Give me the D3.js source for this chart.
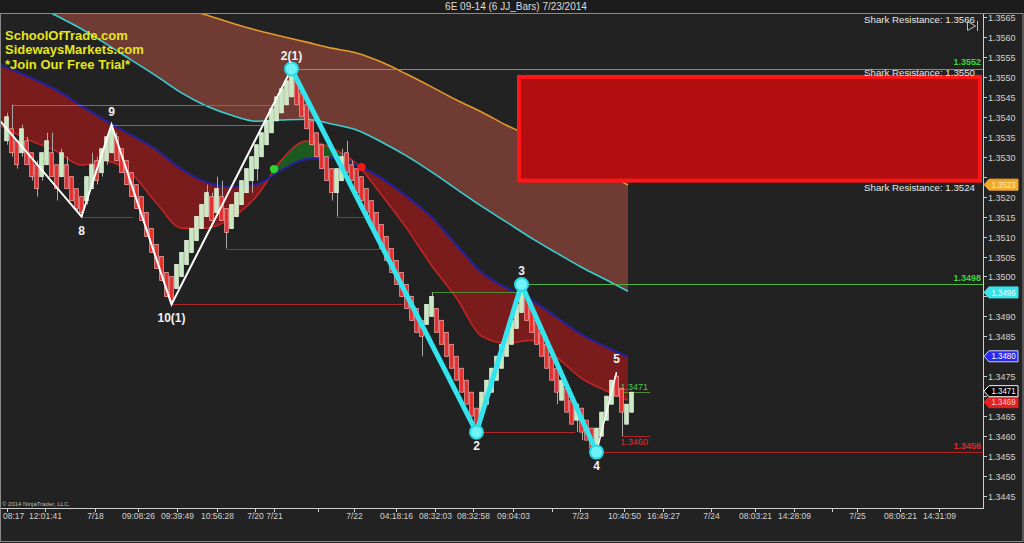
<!DOCTYPE html>
<html><head><meta charset="utf-8">
<script src="https://cdn.jsdelivr.net/npm/d3@7"></script>
<style>
html,body{margin:0;padding:0;background:#222;}
svg{display:block;font-family:Arial,"Liberation Sans",sans-serif;}
</style></head><body>
<svg id="chart" width="1024" height="543"></svg>
<script>
// ---------------- DATA ----------------
const barOpen = [1.3534,1.3537,1.3534,1.3531,1.3534,1.3531,1.3528,1.3525,1.3528,1.3531,
1.3528,1.3525,1.3528,1.3525,1.3522,1.3520,1.3519,1.3522,1.3529,1.3526,
1.3529,1.3531,1.3535,1.3532,1.3529,1.3526,1.3523,1.3520,1.3516,1.3512,
1.3508,1.3505,1.3501,1.3500,1.3497,1.3500,1.3503,1.3506,1.3509,1.3512,
1.3515,1.3520,1.3516,1.3520,1.3517,1.3512,1.3515,1.3518,1.3521,1.3524,
1.3527,1.3530,1.3533,1.3536,1.3539,1.3541,1.3543,1.3545,1.3549,1.3546,
1.3543,1.3539,1.3536,1.3533,1.3530,1.3527,1.3521,1.3524,1.3531,1.3528,
1.3527,1.3525,1.3522,1.3519,1.3516,1.3513,1.3510,1.3507,1.3504,1.3501,
1.3498,1.3495,1.3492,1.3489,1.3488,1.3490,1.3492,1.3489,1.3486,1.3483,
1.3480,1.3477,1.3474,1.3471,1.3467,1.3465,1.3468,1.3471,1.3474,1.3477,
1.3480,1.3483,1.3487,1.3491,1.3495,1.3492,1.3489,1.3486,1.3483,1.3480,
1.3477,1.3469,1.3472,1.3469,1.3464,1.3467,1.3464,1.3462,1.3457,1.3460,
1.3464,1.3468,1.3475,1.3472,1.3463,1.3466];
const barHigh = [1.3541,1.3543,1.3534,1.3538,1.3535,1.3531,1.3529,1.3531,1.3536,1.3536,
1.3528,1.3532,1.3530,1.3525,1.3522,1.3520,1.3525,1.3531,1.3530,1.3532,
1.3535,1.3538,1.3536,1.3532,1.3529,1.3526,1.3523,1.3520,1.3516,1.3512,
1.3508,1.3505,1.3501,1.3500,1.3503,1.3506,1.3509,1.3512,1.3515,1.3518,
1.3523,1.3521,1.3525,1.3524,1.3517,1.3518,1.3521,1.3524,1.3527,1.3530,
1.3533,1.3536,1.3539,1.3542,1.3545,1.3547,1.3549,1.3552,1.3549,1.3546,
1.3543,1.3539,1.3536,1.3533,1.3530,1.3527,1.3527,1.3532,1.3534,1.3529,
1.3527,1.3525,1.3522,1.3519,1.3516,1.3513,1.3510,1.3507,1.3504,1.3501,
1.3498,1.3495,1.3492,1.3489,1.3493,1.3496,1.3492,1.3489,1.3486,1.3483,
1.3480,1.3477,1.3474,1.3471,1.3467,1.3471,1.3474,1.3477,1.3480,1.3483,
1.3486,1.3489,1.3493,1.3498,1.3495,1.3492,1.3489,1.3486,1.3483,1.3480,
1.3477,1.3476,1.3472,1.3469,1.3468,1.3467,1.3464,1.3462,1.3462,1.3466,
1.3470,1.3474,1.3476,1.3472,1.3468,1.3471];
const barLow = [1.3533,1.3530,1.3527,1.3530,1.3528,1.3524,1.3520,1.3524,1.3528,1.3525,
1.3519,1.3525,1.3522,1.3519,1.3516,1.3515,1.3518,1.3522,1.3523,1.3525,
1.3528,1.3531,1.3529,1.3526,1.3523,1.3520,1.3517,1.3514,1.3510,1.3506,
1.3502,1.3499,1.3495,1.3493,1.3497,1.3500,1.3503,1.3506,1.3509,1.3512,
1.3515,1.3514,1.3516,1.3514,1.3507,1.3512,1.3515,1.3518,1.3521,1.3521,
1.3524,1.3530,1.3533,1.3536,1.3539,1.3541,1.3543,1.3545,1.3543,1.3540,
1.3537,1.3533,1.3530,1.3527,1.3524,1.3519,1.3515,1.3524,1.3526,1.3524,
1.3521,1.3519,1.3515,1.3513,1.3510,1.3506,1.3504,1.3501,1.3498,1.3495,
1.3492,1.3489,1.3486,1.3480,1.3488,1.3490,1.3486,1.3483,1.3480,1.3477,
1.3474,1.3471,1.3468,1.3465,1.3461,1.3465,1.3468,1.3471,1.3474,1.3477,
1.3480,1.3483,1.3487,1.3491,1.3489,1.3486,1.3483,1.3480,1.3477,1.3474,
1.3468,1.3469,1.3466,1.3463,1.3461,1.3459,1.3459,1.3457,1.3456,1.3460,
1.3464,1.3468,1.3470,1.3460,1.3463,1.3466];
const barClose = [1.3540,1.3531,1.3528,1.3537,1.3528,1.3525,1.3522,1.3531,1.3534,1.3525,
1.3522,1.3531,1.3522,1.3519,1.3517,1.3516,1.3525,1.3528,1.3524,1.3532,
1.3535,1.3537,1.3529,1.3526,1.3523,1.3520,1.3517,1.3514,1.3510,1.3506,
1.3502,1.3499,1.3495,1.3494,1.3503,1.3506,1.3509,1.3512,1.3515,1.3518,
1.3521,1.3514,1.3522,1.3514,1.3511,1.3518,1.3521,1.3524,1.3527,1.3530,
1.3533,1.3536,1.3539,1.3542,1.3545,1.3547,1.3549,1.3551,1.3543,1.3540,
1.3537,1.3533,1.3530,1.3527,1.3524,1.3521,1.3527,1.3530,1.3526,1.3524,
1.3521,1.3519,1.3516,1.3513,1.3510,1.3507,1.3504,1.3501,1.3498,1.3495,
1.3492,1.3489,1.3486,1.3485,1.3493,1.3495,1.3486,1.3483,1.3480,1.3477,
1.3474,1.3471,1.3468,1.3465,1.3462,1.3471,1.3474,1.3477,1.3480,1.3483,
1.3486,1.3489,1.3493,1.3497,1.3489,1.3486,1.3483,1.3480,1.3477,1.3474,
1.3471,1.3474,1.3466,1.3463,1.3468,1.3461,1.3459,1.3457,1.3462,1.3466,
1.3470,1.3474,1.3470,1.3466,1.3468,1.3471];

// moving-average bands, sampled at bar indexes
const maIdx = [-1.5,5,10,15,20,25,30,35,40,45,50,55,60,65,70,75,80,85,90,95,100,105,110,115,120,124.3];
const maOrange = [1.35818,1.35793,1.35773,1.35753,1.35733,1.35713,1.35693,1.35673,1.35655,1.35635,1.35617,1.35602,1.35587,1.35572,1.35560,1.35537,1.35507,1.35475,1.35442,1.35412,1.35379,1.35349,1.35319,1.35289,1.35259,1.35229];
const maCyan = [1.35730,1.35685,1.35653,1.35620,1.35582,1.35542,1.35502,1.35460,1.35427,1.35404,1.35389,1.35392,1.35394,1.35382,1.35367,1.35337,1.35302,1.35262,1.35219,1.35176,1.35136,1.35096,1.35059,1.35023,1.34991,1.34963];
const maBlue = [1.35532,1.35497,1.35467,1.35427,1.35389,1.35354,1.35317,1.35269,1.35236,1.35224,1.35231,1.35267,1.35294,1.35297,1.35279,1.35246,1.35201,1.35149,1.35079,1.35011,1.34971,1.34941,1.34898,1.34855,1.34823,1.34798];
const maRed = [1.35379,1.35339,1.35314,1.35279,1.35289,1.35257,1.35184,1.35121,1.35121,1.35146,1.35201,1.35292,1.35339,1.35322,1.35282,1.35204,1.35121,1.35028,1.34946,1.34851,1.34833,1.34840,1.34798,1.34745,1.34713,1.34690];

// cross dots
const crossIdx = [53.5, 71];
const crossPrice = [1.35269, 1.35274];
const crossKind = ["up", "down"];

// zigzags
const whiteIdx = [-1.3, 15, 21, 33, 57];
const whitePrice = [1.3539, 1.3515, 1.3538, 1.3493, 1.3552];
const white2Idx = [118, 122];
const white2Price = [1.3456, 1.3476];
const cyanIdx = [57, 94, 103, 118];
const cyanPrice = [1.3552, 1.3461, 1.3498, 1.3456];

// swing labels
const swingLabel = ["8", "9", "10(1)", "2(1)", "2", "3", "4", "5"];
const swingIdx = [15, 21, 33, 57, 94, 103, 118, 122];
const swingPrice = [1.3515, 1.3538, 1.3493, 1.3552, 1.3461, 1.3498, 1.3456, 1.3476];
const swingIsLow = [true, false, true, false, true, false, true, false];

// swing horizontal lines
const slPrice = [1.3543, 1.3538, 1.3515, 1.3507, 1.3493, 1.3515, 1.3496, 1.3461, 1.3471, 1.3460];
const slStart = [1, 21, 15, 44, 33, 66, 85, 94, 123, 123];
const slEnd   = [54.7, 52, 25.3, 74.7, 79.3, 72.3, 102.7, 113.7, 128.7, 128.7];
const slUp    = [true, true, false, false, false, false, true, false, true, false];

// levels extending to the axis
const levelPrice = [1.3552, 1.3498, 1.3456];
const levelStart = [57, 103, 118];
const levelUp = [true, true, false];

// shark zone
const sharkTop = 1.3550, sharkBottom = 1.3524, sharkStartIdx = 102.5;
const sharkPrice = [1.3566, 1.3550, 1.3524];

// axis
const yTickValues = [1.3565,1.3560,1.3555,1.3550,1.3545,1.3540,1.3535,1.3530,1.3525,1.3520,1.3515,1.3510,1.3505,1.3500,1.3495,1.3490,1.3485,1.3480,1.3475,1.3470,1.3465,1.3460,1.3455,1.3450,1.3445];
const xTickIdx = [0.1,7.7,17.7,26.3,34.1,42.1,49.7,53.5,62.3,69.5,77.9,85.7,93.3,101.3,109.1,114.7,123.5,131.3,140.9,149.7,157.5,165.1,170.1,178.7,186.5];
const xTickLabel = ["08:17","12:01:41","7/18","09:08:26","09:39:49","10:56:28","7/20","7/21","","7/22","04:18:16","08:32:03","08:32:58","09:04:03","","7/23","10:40:50","16:49:27","7/24","08:03:21","14:28:09","","7/25","08:06:21","14:31:09"];

// right-axis price flags (drawn in this order)
const flagPrice = [1.3523, 1.3496, 1.3480, 1.3469, 1.3471];
const flagFill = ["#f2a92c", "#38e4ea", "#2a2af0", "#e42020", "#000000"];
const flagText = ["#fff1b8", "#eaffff", "#ffffff", "#ffd0d0", "#ffffff"];
const flagStroke = ["#f2a92c", "#38e4ea", "#d0d0ff", "#e42020", "#ffffff"];
const flagNudge = [0, 0, 0, 2, -1];

// ---------------- DRAW ----------------
const svg = d3.select('#chart');
const P = {left: 1, right: 983, top: 14, bottom: 508};
const x = d3.scaleLinear().domain([0, 125]).range([6.5, 631.5]);
const y = d3.scaleLinear().domain([1.3445, 1.3565]).range([496, 17]);
const curve = d3.curveMonotoneX;

svg.append('rect').attr('width', 1024).attr('height', 543).attr('fill', '#222');
svg.append('rect').attr('width', 1024).attr('height', 14).attr('fill', '#1c1c1c');

const defs = svg.append('defs');
defs.append('clipPath').attr('id', 'plotClip').append('rect')
  .attr('x', P.left).attr('y', P.top).attr('width', P.right - P.left).attr('height', P.bottom - P.top);

const ma = maIdx.map((i, k) => ({i, orange: maOrange[k], cyan: maCyan[k], blue: maBlue[k], red: maRed[k]}));
defs.append('clipPath').attr('id', 'aboveBlue').append('path')
  .attr('d', d3.area().x(d => x(d.i)).y0(-50).y1(d => y(d.blue)).curve(curve)(ma));
defs.append('clipPath').attr('id', 'belowBlue').append('path')
  .attr('d', d3.area().x(d => x(d.i)).y0(d => y(d.blue)).y1(700).curve(curve)(ma));

const g = svg.append('g').attr('clip-path', 'url(#plotClip)');

// bands
g.append('path').attr('fill', '#6f3b33')
  .attr('d', d3.area().x(d => x(d.i)).y0(d => y(d.cyan)).y1(d => y(d.orange)).curve(curve)(ma));
const band = d3.area().x(d => x(d.i)).y0(d => y(d.red)).y1(d => y(d.blue)).curve(curve);
g.append('g').attr('clip-path', 'url(#aboveBlue)').append('path').attr('fill', '#1d5a21').attr('d', band(ma));
g.append('g').attr('clip-path', 'url(#belowBlue)').append('path').attr('fill', '#7a1c1c').attr('d', band(ma));

const lineOf = key => d3.line().x(d => x(d.i)).y(d => y(d[key])).curve(curve)(ma);
g.append('path').attr('d', lineOf('orange')).attr('fill', 'none').attr('stroke', '#e49a2c').attr('stroke-width', 1.6);
g.append('path').attr('d', lineOf('cyan')).attr('fill', 'none').attr('stroke', '#3ccfd2').attr('stroke-width', 1.6);
g.append('path').attr('d', lineOf('red')).attr('fill', 'none').attr('stroke', '#c42424').attr('stroke-width', 1.6);
g.append('path').attr('d', lineOf('blue')).attr('fill', 'none').attr('stroke', '#24229a').attr('stroke-width', 2.2);

// swing lines
slPrice.forEach((p, k) => {
  g.append('line').attr('x1', x(slStart[k])).attr('x2', x(slEnd[k]))
    .attr('y1', Math.round(y(p)) + 0.5).attr('y2', Math.round(y(p)) + 0.5)
    .attr('stroke', slUp[k] ? '#4f8e34' : '#b02626').attr('stroke-width', 1);
});
levelPrice.forEach((p, k) => {
  g.append('line').attr('x1', x(levelStart[k])).attr('x2', P.right)
    .attr('y1', Math.round(y(p)) + 0.5).attr('y2', Math.round(y(p)) + 0.5)
    .attr('stroke', levelUp[k] ? '#52b446' : '#b02222').attr('stroke-width', 1);
});

// candles
const bars = barOpen.map((o, i) => ({i, o, h: barHigh[i], l: barLow[i], c: barClose[i]}));
g.append('g').selectAll('line').data(bars).join('line')
  .attr('x1', d => Math.round(x(d.i)) + 0.5).attr('x2', d => Math.round(x(d.i)) + 0.5)
  .attr('y1', d => y(d.h)).attr('y2', d => y(d.l))
  .attr('stroke', '#a8a8a8').attr('stroke-width', 1);
g.append('g').selectAll('rect').data(bars).join('rect')
  .attr('x', d => x(d.i) - 1.8).attr('width', 3.6)
  .attr('y', d => y(Math.max(d.o, d.c))).attr('height', d => Math.max(1, Math.abs(y(d.o) - y(d.c))))
  .attr('fill', d => d.c >= d.o ? '#c6e9be' : '#e42a2a')
  .attr('stroke', d => d.c >= d.o ? '#eaf8e6' : '#f4a4a4').attr('stroke-width', 0.8);

// shark zone
g.append('rect').attr('x', x(sharkStartIdx)).attr('y', y(sharkTop))
  .attr('width', 980 - x(sharkStartIdx)).attr('height', y(sharkBottom) - y(sharkTop))
  .attr('fill', '#b30e10').attr('stroke', '#ff1616').attr('stroke-width', 4);

// zigzags
const zz = d3.line().x(d => x(d[0])).y(d => y(d[1]));
g.append('path').attr('d', zz(whiteIdx.map((v, k) => [v, whitePrice[k]])))
  .attr('fill', 'none').attr('stroke', '#ffffff').attr('stroke-width', 2);
g.append('path').attr('d', zz(white2Idx.map((v, k) => [v, white2Price[k]])))
  .attr('fill', 'none').attr('stroke', '#ffffff').attr('stroke-width', 1.5);
g.append('path').attr('d', zz(cyanIdx.map((v, k) => [v, cyanPrice[k]])))
  .attr('fill', 'none').attr('stroke', '#33e4ee').attr('stroke-width', 5).attr('stroke-linejoin', 'round');
g.append('g').selectAll('circle').data(cyanIdx).join('circle')
  .attr('cx', (d) => x(d)).attr('cy', (d, k) => y(cyanPrice[k])).attr('r', 6.5)
  .attr('fill', '#6ff2f8').attr('stroke', '#2ad8e6').attr('stroke-width', 2);

// cross dots
g.append('g').selectAll('circle').data(crossIdx).join('circle')
  .attr('cx', d => x(d)).attr('cy', (d, k) => y(crossPrice[k])).attr('r', 4.2)
  .attr('fill', (d, k) => crossKind[k] === 'up' ? '#2fd12f' : '#f01818');

// swing labels
svg.append('g').selectAll('text').data(swingLabel).join('text')
  .attr('x', (d, k) => x(swingIdx[k])).attr('y', (d, k) => y(swingPrice[k]) + (swingIsLow[k] ? 18 : -9))
  .attr('text-anchor', 'middle').attr('fill', '#f2f2f2').attr('font-size', 12).attr('font-weight', 'bold')
  .text(d => d);

// level labels
levelPrice.forEach((p, k) => {
  svg.append('text').attr('x', 981).attr('y', y(p) - 3.5).attr('text-anchor', 'end')
    .attr('font-size', 9).attr('font-weight', 'bold')
    .attr('fill', levelUp[k] ? '#3ed43e' : '#e02828').text(p.toFixed(4));
});
// short labels near last bars
[8, 9].forEach(k => {
  svg.append('text').attr('x', x(slStart[k]) - 1).attr('y', y(slPrice[k]) + (slUp[k] ? -2 : 9))
    .attr('font-size', 9).attr('fill', slUp[k] ? '#4cc94c' : '#e03030').text(slPrice[k].toFixed(4));
});

// shark texts
const sharkDy = [10, -0.5, 10];
sharkPrice.forEach((p, k) => {
  svg.append('text').attr('x', 975).attr('y', y(p) + sharkDy[k]).attr('text-anchor', 'end')
    .attr('font-size', 9.7).attr('fill', '#e6e6e6').text('Shark Resistance: ' + p.toFixed(4));
});

// watermark
const wm = ["SchoolOfTrade.com", "SidewaysMarkets.com", "*Join Our Free Trial*"];
svg.append('g').selectAll('text').data(wm).join('text')
  .attr('x', 5).attr('y', (d, k) => 40 + k * 14.3).attr('font-size', 13).attr('font-weight', 'bold')
  .attr('fill', '#e6e61c').text(d => d);

// frame & axes
svg.append('rect').attr('x', 0.5).attr('y', 13.5).attr('width', 1022.5).attr('height', 528)
  .attr('fill', 'none').attr('stroke', '#8a8a8a');
svg.append('line').attr('x1', P.left).attr('x2', P.right).attr('y1', P.bottom + 0.5).attr('y2', P.bottom + 0.5).attr('stroke', '#cfcfcf');
svg.append('line').attr('x1', P.right + 0.5).attr('x2', P.right + 0.5).attr('y1', P.top).attr('y2', P.bottom + 1).attr('stroke', '#cfcfcf');

const yAx = svg.append('g');
yTickValues.forEach(v => {
  const yy = Math.round(y(v)) + 0.5;
  yAx.append('line').attr('x1', P.right).attr('x2', P.right + 4).attr('y1', yy).attr('y2', yy).attr('stroke', '#cfcfcf');
  const covered = flagPrice.some(f => Math.abs(y(f) - y(v)) < 10);
  if (covered) return;
  yAx.append('text').attr('transform', `translate(988,${yy + 3.5}) scale(0.92,1)`)
    .attr('font-size', 9.8).attr('fill', '#d2d2d2').text(v.toFixed(4));
});
const xAx = svg.append('g');
xTickIdx.forEach((v, k) => {
  const xx = Math.round(x(v)) + 0.5;
  xAx.append('line').attr('x1', xx).attr('x2', xx).attr('y1', P.bottom).attr('y2', P.bottom + 4).attr('stroke', '#cfcfcf');
  const first = k === 0;
  xAx.append('text').attr('transform', `translate(${first ? 3 : xx},519) scale(0.87,1)`)
    .attr('text-anchor', first ? 'start' : 'middle').attr('font-size', 9.8)
    .attr('fill', '#d2d2d2').text(xTickLabel[k]);
});

// flags
flagPrice.forEach((p, k) => {
  const yc = y(p) + flagNudge[k];
  svg.append('path').attr('d', `M984,${yc} L989,${yc - 5.5} L1018,${yc - 5.5} L1018,${yc + 5.5} L989,${yc + 5.5} Z`)
    .attr('fill', flagFill[k]).attr('stroke', flagStroke[k]).attr('stroke-width', 1);
  svg.append('text').attr('transform', `translate(1003.5,${yc + 3.2}) scale(0.9,1)`).attr('text-anchor', 'middle')
    .attr('font-size', 8.8).attr('fill', flagText[k]).text(p.toFixed(4));
});

// title, icon, copyright
svg.append('text').attr('x', 516).attr('y', 10).attr('text-anchor', 'middle').attr('font-size', 10)
  .attr('fill', '#dedede').text('6E 09-14 (6 JJ_Bars)  7/23/2014');
svg.append('path').attr('d', 'M967.5,21.5 L975.5,26 L967.5,30.5 Z M977.5,21 L977.5,31')
  .attr('fill', 'none').attr('stroke', '#bdbdbd').attr('stroke-width', 1);
svg.append('text').attr('x', 2).attr('y', 506).attr('font-size', 6).attr('fill', '#bdbdbd').text('© 2014 NinjaTrader, LLC.');
</script>
</body></html>
